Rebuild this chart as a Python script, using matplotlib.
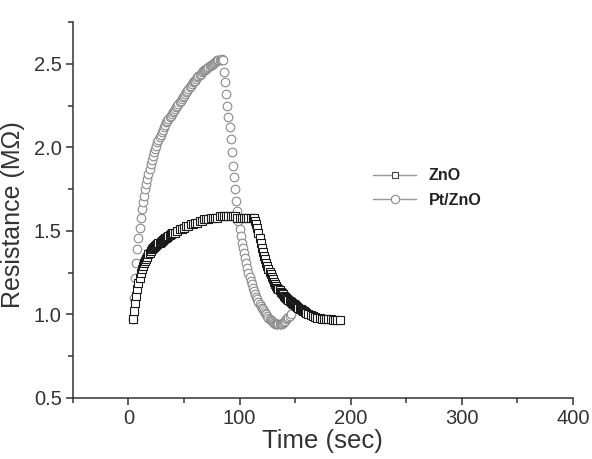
import matplotlib
matplotlib.use('Agg')
import matplotlib.pyplot as plt
from matplotlib.ticker import MultipleLocator

plt.rcParams['font.family'] = ['Liberation Sans', 'DejaVu Sans']

# ZnO sensor response (squares)
t_zno = [4, 5, 6, 7, 8, 9, 10, 11, 12, 13, 14, 15, 16, 17, 18, 19, 20, 21, 22,
         23, 24, 25, 26, 27, 28, 29, 30, 31, 32, 33, 34, 35, 36, 37, 38, 39, 40,
         42, 44, 46, 48, 50, 52, 54, 56, 58, 60, 62, 64, 66, 68, 70, 72, 74, 76,
         78, 80, 82, 84, 86, 88, 90, 92, 94, 96, 98, 100, 102, 104, 106, 108,
         110, 112, 113, 114, 115, 116, 117, 118, 119, 120, 121, 122, 123, 124,
         125, 126, 127, 128, 129, 130, 131, 132, 133, 134, 135, 136, 137, 138,
         139, 140, 141, 142, 143, 144, 145, 146, 147, 148, 149, 150, 151, 152,
         153, 154, 155, 156, 157, 158, 159, 160, 162, 164, 166, 168, 170, 172,
         174, 176, 178, 180, 182, 184, 186, 188, 190]
r_zno = [0.97, 1.02, 1.07, 1.11, 1.15, 1.19, 1.22, 1.25, 1.27, 1.29, 1.31, 1.32,
         1.33, 1.345, 1.36, 1.37, 1.38, 1.39, 1.40, 1.405, 1.41, 1.415, 1.42,
         1.425, 1.43, 1.435, 1.44, 1.445, 1.45, 1.455, 1.46, 1.465, 1.47, 1.475,
         1.48, 1.485, 1.49,
         1.49, 1.50, 1.51, 1.51, 1.52, 1.53, 1.53, 1.54, 1.54, 1.55, 1.55, 1.56,
         1.56, 1.57, 1.57, 1.57, 1.58, 1.58, 1.58, 1.58, 1.59, 1.59, 1.59, 1.59,
         1.59, 1.59, 1.59, 1.59, 1.58, 1.58, 1.58, 1.58, 1.58, 1.58, 1.58,
         1.58, 1.575, 1.56, 1.54, 1.52, 1.49, 1.46, 1.43, 1.40, 1.375, 1.35,
         1.33, 1.31, 1.29, 1.27, 1.255, 1.24, 1.225, 1.21, 1.195, 1.18, 1.17,
         1.16, 1.15, 1.145, 1.135, 1.13, 1.12, 1.11, 1.105, 1.10, 1.09, 1.085,
         1.08, 1.075, 1.07, 1.065, 1.06, 1.055, 1.05, 1.045, 1.04, 1.035, 1.03,
         1.025, 1.02, 1.018, 1.014, 1.01, 1.00, 0.995, 0.99, 0.985, 0.98, 0.978,
         0.975, 0.973, 0.971, 0.97, 0.97, 0.968, 0.968, 0.967, 0.967]

# Pt/ZnO sensor response (circles)
t_pt = [4, 5, 6, 7, 8, 9, 10, 11, 12, 13, 14, 15, 16, 17, 18, 19, 20, 21, 22,
        23, 24, 25, 26, 27, 28, 29, 30, 31, 32, 33, 34, 35, 36, 37, 38, 39, 40,
        41, 42, 43, 44, 45, 46, 47, 48, 49, 50, 51, 52, 53, 54, 55, 56, 57, 58,
        59, 60, 61, 62, 63, 64, 65, 66, 67, 68, 69, 70, 71, 72, 73, 74, 75, 76,
        77, 78, 79, 80, 81, 82, 83, 84, 85, 86, 87, 88, 89, 90, 91, 92, 93, 94,
        95, 96, 97, 98, 99, 100, 101, 102, 103, 104, 105, 106, 107, 108, 109,
        110, 111, 112, 113, 114, 115, 116, 117, 118, 119, 120, 121, 122, 123,
        124, 125, 126, 127, 128, 129, 130, 131, 132, 133, 134, 135, 136, 137,
        138, 139, 140, 141, 142, 143, 144, 145, 146]
r_pt = [0.97, 1.10, 1.22, 1.31, 1.39, 1.46, 1.52, 1.58, 1.63, 1.67, 1.71, 1.75,
        1.78, 1.81, 1.84, 1.87, 1.90, 1.925, 1.95, 1.97, 1.99, 2.01, 2.03, 2.045,
        2.06, 2.075, 2.09, 2.105, 2.12, 2.135, 2.15, 2.16, 2.17, 2.18, 2.19,
        2.20, 2.21, 2.22, 2.23, 2.24, 2.25, 2.26, 2.27, 2.28, 2.29, 2.30, 2.31,
        2.32, 2.33, 2.34, 2.35, 2.36, 2.37, 2.38, 2.39, 2.395, 2.40, 2.41, 2.42,
        2.425, 2.43, 2.44, 2.45, 2.455, 2.46, 2.465, 2.47, 2.475, 2.48, 2.485,
        2.49, 2.495, 2.50, 2.505, 2.51, 2.515, 2.52, 2.52, 2.52, 2.525, 2.53,
        2.52, 2.45, 2.39, 2.32, 2.25, 2.18, 2.12, 2.05, 1.97, 1.89, 1.82, 1.75,
        1.68, 1.62, 1.56, 1.51, 1.47, 1.43, 1.40, 1.37, 1.34, 1.31, 1.28, 1.25,
        1.225, 1.20, 1.18, 1.16, 1.14, 1.12, 1.105, 1.09, 1.075, 1.06, 1.05,
        1.04, 1.03, 1.02, 1.01, 1.00, 0.99, 0.98, 0.972, 0.965, 0.96, 0.955,
        0.95, 0.945, 0.942, 0.94, 0.94, 0.94, 0.942, 0.945, 0.95, 0.955, 0.962,
        0.97, 0.977, 0.985, 0.992, 1.0]

fig = plt.figure(figsize=(5.92, 4.59), dpi=100)
ax = fig.add_axes([0.123, 0.133, 0.845, 0.819])

ax.plot(t_pt, r_pt, ls='none', marker='o', ms=6.2, mfc='white',
        mec='#8a8a8a', mew=0.8, zorder=2)
ax.plot(t_zno, r_zno, ls='none', marker='s', ms=5.5, mfc='white',
        mec='#1a1a1a', mew=0.8, zorder=3)

# legend handles: gray line with marker
h1, = ax.plot([], [], color='#999999', lw=1, marker='s', ms=5, mfc='white',
              mec='#444444', mew=0.8)
h2, = ax.plot([], [], color='#999999', lw=1, marker='o', ms=6, mfc='white',
              mec='#8a8a8a', mew=0.8)
leg = fig.legend([h1, h2], ['ZnO', 'Pt/ZnO'], loc='center left',
                 bbox_to_anchor=(373 / 592, 1 - 188 / 459), frameon=False,
                 prop={'weight': 'bold', 'size': 11.5}, handlelength=2.7,
                 handletextpad=0.8, labelspacing=0.6, borderpad=0,
                 borderaxespad=0)
for txt in leg.get_texts():
    txt.set_color('#222222')

ax.set_xlim(-50, 400)
ax.set_ylim(0.5, 2.75)
ax.set_xticks([0, 100, 200, 300, 400])
ax.set_yticks([0.5, 1.0, 1.5, 2.0, 2.5])
ax.xaxis.set_minor_locator(MultipleLocator(50))
ax.yaxis.set_minor_locator(MultipleLocator(0.25))

for side in ['top', 'right']:
    ax.spines[side].set_visible(False)
for side in ['left', 'bottom']:
    ax.spines[side].set_color('#333333')
    ax.spines[side].set_linewidth(1.1)

ax.tick_params(which='major', direction='out', length=5, width=1.1,
               color='#333333', labelsize=14.5, labelcolor='#333333', pad=3)
ax.tick_params(which='minor', direction='out', length=3.5, width=1.1,
               color='#333333')

ax.set_xlabel('Time (sec)', fontsize=18.5, color='#333333', labelpad=1)
ax.set_ylabel('Resistance (M\u03a9)', fontsize=18, color='#333333')
ax.yaxis.set_label_coords(-0.096, 0.487)

fig.savefig('out.png', dpi=100)
